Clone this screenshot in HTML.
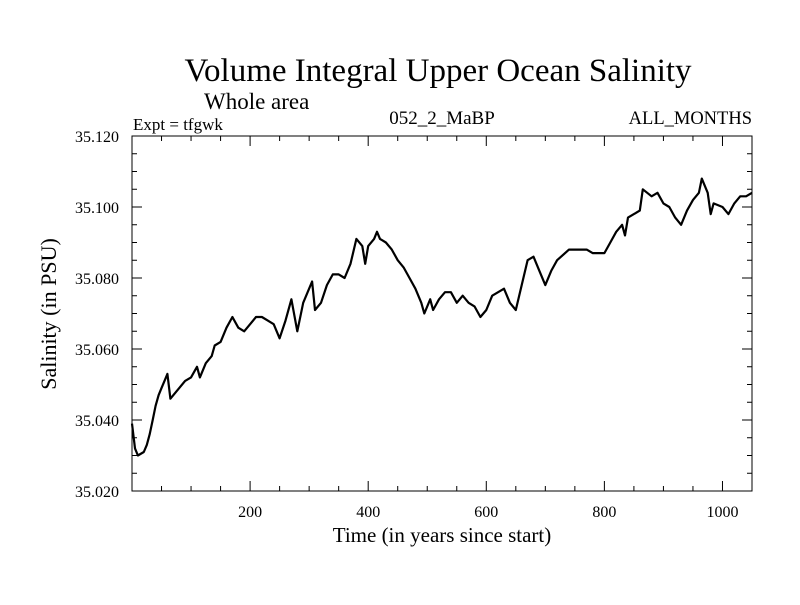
<!DOCTYPE html>
<html><head><meta charset="utf-8"><style>
body{margin:0;background:#fff}
svg text{font-family:"Liberation Serif",serif;fill:#000}
</style></head><body>
<svg width="800" height="600">
<text x="438" y="81" font-size="33" text-anchor="middle">Volume Integral Upper Ocean Salinity</text>
<text x="204" y="109" font-size="23">Whole area</text>
<text x="133" y="130" font-size="17">Expt = tfgwk</text>
<text x="442" y="124" font-size="19" text-anchor="middle">052_2_MaBP</text>
<text x="752" y="124" font-size="18.5" text-anchor="end">ALL_MONTHS</text>
<g id="axes"></g>
<path id="line" fill="none" stroke="#000" stroke-width="2.2" stroke-linejoin="round"/>
<text x="442" y="542" font-size="21" text-anchor="middle">Time (in years since start)</text>
<text transform="translate(56,314) rotate(-90)" font-size="22" text-anchor="middle">Salinity (in PSU)</text>
</svg>
<script>
const years=[0,5,10,20,25,30,35,40,45,50,55,60,65,70,80,90,100,110,115,125,135,140,150,160,170,180,190,200,210,220,230,240,250,260,270,280,290,300,305,310,320,330,340,350,360,370,380,390,395,400,410,415,420,430,440,450,460,470,480,490,495,505,510,520,530,540,550,560,570,580,590,600,610,620,630,640,650,660,670,680,690,700,710,720,740,750,770,780,800,810,820,830,835,840,850,860,865,880,890,900,910,920,930,940,950,960,965,975,980,985,1000,1010,1020,1030,1040,1050];
const salinity=[35.039,35.032,35.030,35.031,35.033,35.036,35.040,35.044,35.047,35.049,35.051,35.053,35.046,35.047,35.049,35.051,35.052,35.055,35.052,35.056,35.058,35.061,35.062,35.066,35.069,35.066,35.065,35.067,35.069,35.069,35.068,35.067,35.063,35.068,35.074,35.065,35.073,35.077,35.079,35.071,35.073,35.078,35.081,35.081,35.080,35.084,35.091,35.089,35.084,35.089,35.091,35.093,35.091,35.090,35.088,35.085,35.083,35.080,35.077,35.073,35.070,35.074,35.071,35.074,35.076,35.076,35.073,35.075,35.073,35.072,35.069,35.071,35.075,35.076,35.077,35.073,35.071,35.078,35.085,35.086,35.082,35.078,35.082,35.085,35.088,35.088,35.088,35.087,35.087,35.090,35.093,35.095,35.092,35.097,35.098,35.099,35.105,35.103,35.104,35.101,35.100,35.097,35.095,35.099,35.102,35.104,35.108,35.104,35.098,35.101,35.100,35.098,35.101,35.103,35.103,35.104];
const xTicks=[200,400,600,800,1000];
const yTicks=[35.020,35.040,35.060,35.080,35.100,35.120];
const X0=132,X1=752,Y0=491,Y1=136,XMAX=1050,YMIN=35.02,YMAX=35.12;
const sx=v=>X0+(v/XMAX)*(X1-X0);
const sy=v=>Y0-(v-YMIN)/(YMAX-YMIN)*(Y0-Y1);
const ns="http://www.w3.org/2000/svg";
const ax=document.getElementById('axes');
function ln(x1,y1,x2,y2,name){const l=document.createElementNS(ns,'line');l.setAttribute('x1',x1);l.setAttribute('y1',y1);l.setAttribute('x2',x2);l.setAttribute('y2',y2);l.setAttribute('stroke','#000');l.setAttribute('stroke-width','1');


ax.appendChild(l);}
function tx(x,y,s,anchor,name){const t=document.createElementNS(ns,'text');t.setAttribute('x',x);t.setAttribute('y',y);t.setAttribute('font-size','16');t.setAttribute('text-anchor',anchor);t.textContent=s;


ax.appendChild(t);}
const r=document.createElementNS(ns,'rect');r.setAttribute('x',X0);r.setAttribute('y',Y1);r.setAttribute('width',X1-X0);r.setAttribute('height',Y0-Y1);r.setAttribute('fill','none');r.setAttribute('stroke','#000');


ax.appendChild(r);
for(let v=50;v<XMAX;v+=50){const x=sx(v);const L=(v%200===0)?10:5;ln(x,Y0,x,Y0-L,'x-tick');ln(x,Y1,x,Y1+L,'x-tick-top');}
for(let i=1;i<20;i++){const v=YMIN+i*0.005;const y=sy(v);const L=(i%4===0)?10:5;ln(X0,y,X0+L,y,'y-tick');ln(X1,y,X1-L,y,'y-tick-right');}
xTicks.forEach(v=>tx(sx(v),Y0+26,String(v),'middle','x-tick-label'));
yTicks.forEach(v=>tx(X0-13,sy(v)+6,v.toFixed(3),'end','y-tick-label'));
document.getElementById('line').setAttribute('d',years.map((y,i)=>(i?'L':'M')+sx(y).toFixed(1)+','+sy(salinity[i]).toFixed(1)).join(''));
</script>
</body></html>
